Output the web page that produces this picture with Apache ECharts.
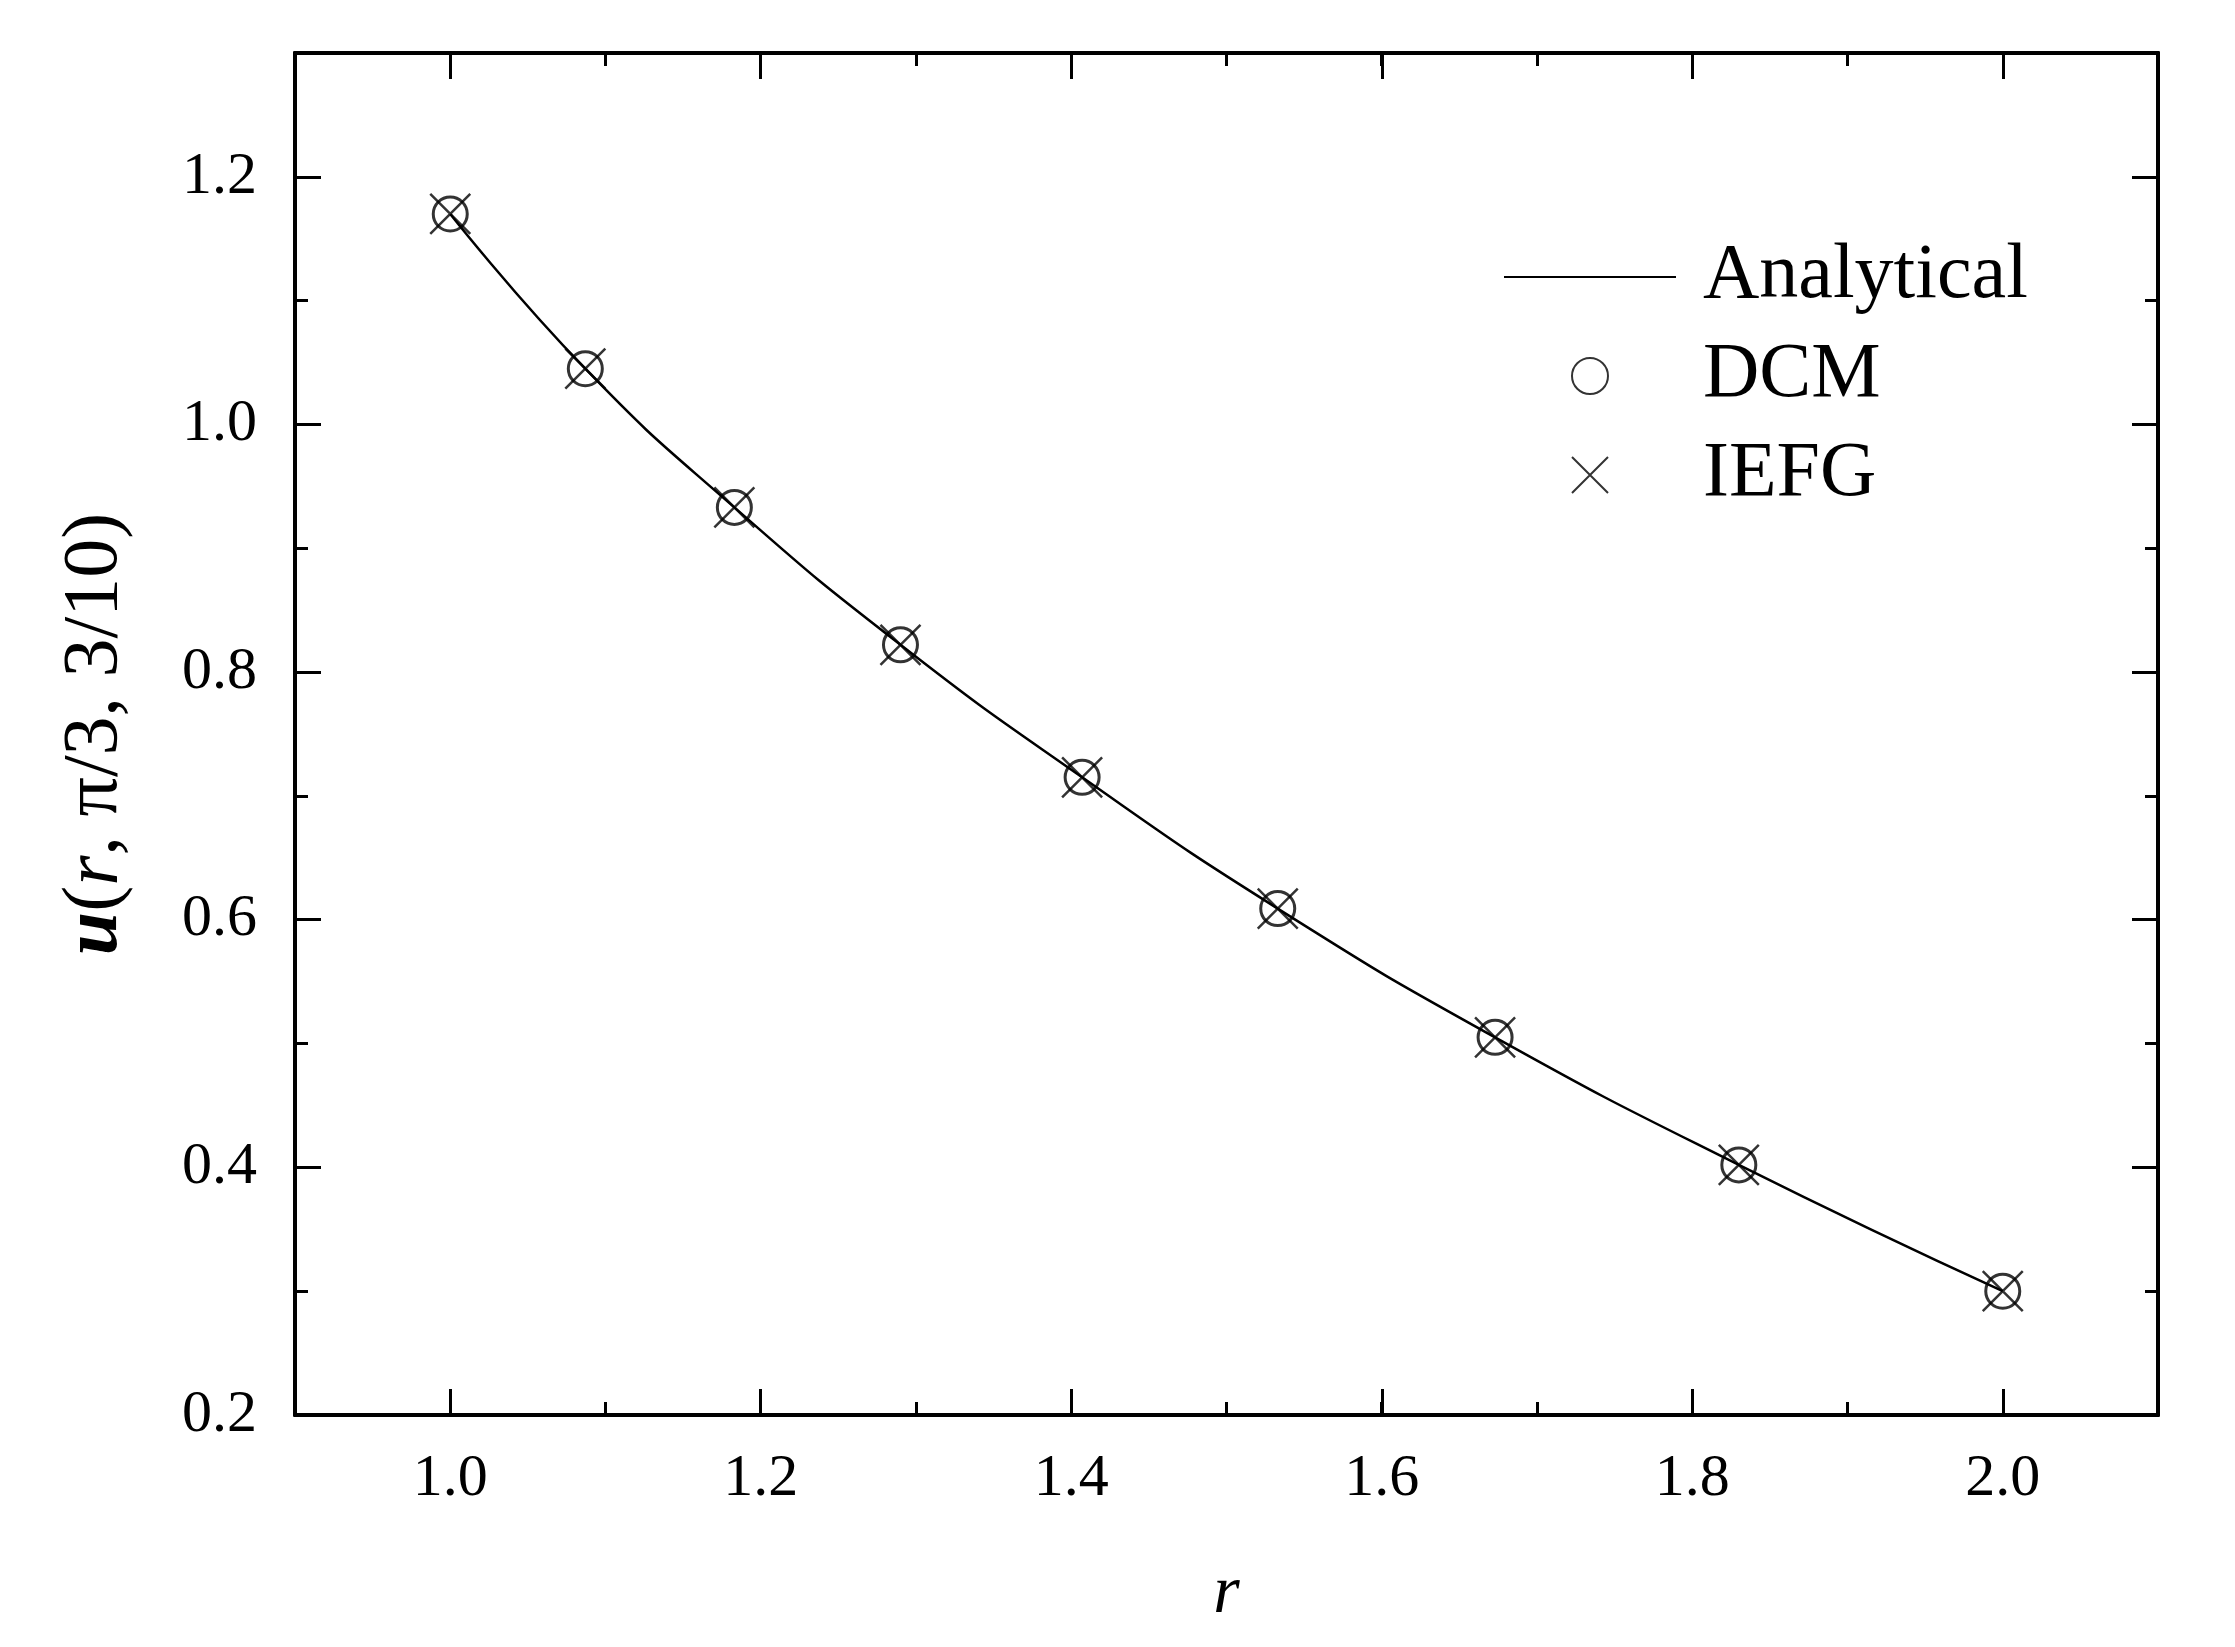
<!DOCTYPE html>
<html>
<head>
<meta charset="utf-8">
<script src="https://cdn.jsdelivr.net/npm/echarts@6/dist/echarts.min.js"></script>
<style>html,body{margin:0;padding:0;background:#fff}#c{width:2235px;height:1647px}</style>
</head>
<body>
<div id="c"></div>
<script>
// values
const rValues = [1.0, 1.087, 1.183, 1.29, 1.407, 1.533, 1.673, 1.83, 2.0]
const analytical = [1.17, 1.045, 0.933, 0.822, 0.715, 0.609, 0.505, 0.402, 0.300]
const dcm = [1.17, 1.045, 0.933, 0.822, 0.715, 0.609, 0.505, 0.402, 0.300]
const iefg = [1.17, 1.045, 0.933, 0.822, 0.715, 0.609, 0.505, 0.402, 0.300]

const font = 'Liberation Serif'
const zip = (xs, ys) => xs.map((x, i) => [x, ys[i]])
const crossPath = 'path://M0,0L10,10M10,0L0,10'

const L = 295, R = 2158, T = 53, B = 1415
const step = (R - L) / 12 // pixels per 0.1 on x

const chart = echarts.init(document.getElementById('c'))

const lineStyle = { color: '#000', width: 4 }
const minorTick = { inside: true, length: 13, lineStyle: { color: '#000', width: 3 } }
const majorTick = { inside: true, length: 26, lineStyle: { color: '#000', width: 3 } }

function xAxes(position) {
  const bottom = position === 'bottom'
  return [
    {
      type: 'value', position, gridIndex: 0, min: 0.9, max: 2.1, interval: 0.1,
      axisLine: { show: true, onZero: false, lineStyle }, splitLine: { show: false },
      axisTick: minorTick,
      axisLabel: {
        show: bottom, margin: 34, color: '#000', fontFamily: font, fontSize: 60,
        formatter: v => {
          const k = Math.round(v * 10)
          return (k % 2 === 0 && k >= 10 && k <= 20) ? v.toFixed(1) : ''
        }
      },
      name: bottom ? 'r' : '', nameLocation: 'middle', nameGap: 145,
      nameTextStyle: { color: '#000', fontFamily: font, fontSize: 68, fontStyle: 'italic' }
    },
    {
      // major ticks, on a grid that starts at r = 1.0
      type: 'value', position, gridIndex: 1, min: 1.0, max: 2.1, interval: 0.2,
      axisLine: { show: false, onZero: false }, splitLine: { show: false },
      axisTick: majorTick, axisLabel: { show: false }
    }
  ]
}

function yAxes(position) {
  const left = position === 'left'
  const base = {
    type: 'value', position, gridIndex: 0, min: 0.2, max: 1.3,
    axisLine: { show: true, onZero: false, lineStyle }, splitLine: { show: false }
  }
  return [
    Object.assign({}, base, { interval: 0.1, axisTick: minorTick, axisLabel: { show: false } }),
    Object.assign({}, base, {
      interval: 0.2, axisTick: majorTick,
      axisLabel: {
        show: left, margin: 38, color: '#000', fontFamily: font, fontSize: 60,
        formatter: v => v > 1.25 ? '' : v.toFixed(1)
      },
      name: left ? '{i|u}({r|r}, π/3, 3/10)' : '', nameLocation: 'middle', nameGap: 160,
      nameTextStyle: {
        color: '#000', fontFamily: font, fontSize: 78,
        rich: {
          i: { fontFamily: font, fontSize: 78, fontStyle: 'italic', fontWeight: 'bold' },
          r: { fontFamily: font, fontSize: 78, fontStyle: 'italic' }
        }
      }
    })
  ]
}

chart.setOption({
  backgroundColor: '#fff',
  animation: false,
  grid: [
    { left: L, right: 2235 - R, top: T, bottom: 1647 - B },
    { left: L + step, right: 2235 - R, top: T, bottom: 1647 - B }
  ],
  xAxis: [...xAxes('bottom'), ...xAxes('top')],
  yAxis: [
    ...yAxes('left'), ...yAxes('right'),
    { type: 'value', gridIndex: 1, min: 0.2, max: 1.3, show: false }
  ],
  legend: {
    orient: 'vertical', left: 1498, top: 233,
    itemWidth: 172, itemHeight: 36, itemGap: 21,
    textStyle: { color: '#000', fontFamily: font, fontSize: 78, padding: [0, 0, 0, 22] },
    data: [
      { name: 'Analytical', itemStyle: { opacity: 0 } },
      'DCM', 'IEFG'
    ]
  },
  series: [
    {
      name: 'Analytical', type: 'line', data: zip(rValues, analytical),
      smooth: true, symbol: 'none', xAxisIndex: 0, yAxisIndex: 0,
      lineStyle: { color: '#000', width: 2.5 }, itemStyle: { color: '#000' }
    },
    {
      name: 'DCM', type: 'scatter', data: zip(rValues, dcm),
      symbol: 'circle', symbolSize: 34, xAxisIndex: 0, yAxisIndex: 0,
      itemStyle: { color: 'rgba(0,0,0,0)', borderColor: '#000', borderWidth: 3 }
    },
    {
      name: 'IEFG', type: 'scatter', data: zip(rValues, iefg),
      symbol: crossPath, symbolSize: 40, xAxisIndex: 0, yAxisIndex: 0,
      itemStyle: { color: 'none', borderColor: '#000', borderWidth: 2.5 }
    }
  ]
})
</script>
</body>
</html>
